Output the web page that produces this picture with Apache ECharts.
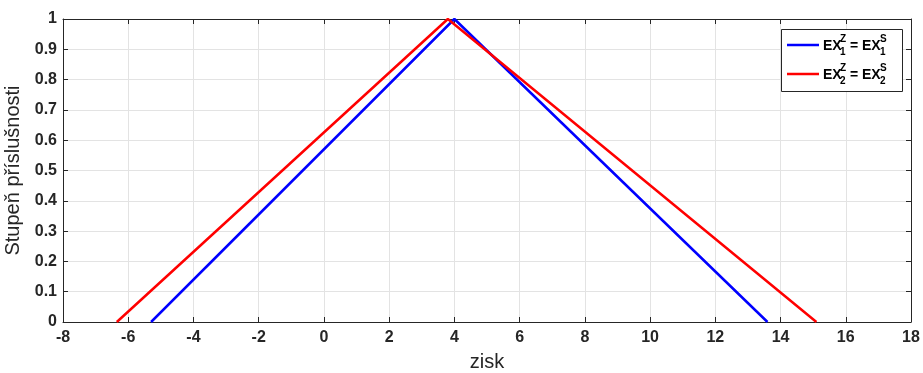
<!DOCTYPE html>
<html><head><meta charset="utf-8">
<script src="https://cdn.jsdelivr.net/npm/echarts@6/dist/echarts.min.js"></script>
<style>html,body{margin:0;padding:0;background:#fff}#c{width:923px;height:373px}</style>
</head><body><div id="c"></div>
<script>
// Data
const blueX = [-5.3, 4.0, 13.6];
const blueY = [0, 1, 0];
const redX = [-6.35, 3.8, 15.1];
const redY = [0, 1, 0];
const xTicks = [-8,-6,-4,-2,0,2,4,6,8,10,12,14,16,18];
const yTicks = [0,0.1,0.2,0.3,0.4,0.5,0.6,0.7,0.8,0.9,1];
const seriesNames = ['EX1', 'EX2'];

const FONT = '"Liberation Sans", Arial, sans-serif';
const AX = '#262626';
const chart = echarts.init(document.getElementById('c'), null, {renderer:'canvas'});

const mk = (xs, ys) => xs.map((x, i) => [x, ys[i]]);

const grid = {left:63, right:12, top:19, bottom:51, containLabel:false, outerBoundsMode:'none'};
const tickCommon = {show:true, inside:true, length:5, lineStyle:{color:AX, width:1}};

function legendRow(y, color, idx) {
  const g = [];
  g.push({type:'line', z:101, shape:{x1:787, y1:y, x2:819, y2:y}, style:{stroke:color, lineWidth:2.5}});
  const f = 'bold 14px ' + FONT, fs = 'bold 10px ' + FONT;
  const t = (x, yy, text, font) => ({type:'text', z:101, x:x, y:yy,
    style:{text:text, font:font, fill:'#000', textAlign:'left', textVerticalAlign:'middle', align:'left', verticalAlign:'middle'}});
  g.push(t(823, y+1, 'EX', f));
  g.push(t(840, y-6, 'Z', fs));
  g.push(t(840, y+7, String(idx), fs));
  g.push(t(850, y+1, '=', f));
  g.push(t(862, y+1, 'EX', f));
  g.push(t(880, y-6, 'S', fs));
  g.push(t(880, y+7, String(idx), fs));
  return g;
}

const option = {
  animation:false,
  backgroundColor:'#fff',
  grid:grid,
  xAxis:[{
    type:'value', min:xTicks[0], max:xTicks[xTicks.length-1], interval:2,
    name:'zisk', nameLocation:'middle', nameGap:30,
    nameTextStyle:{color:AX, fontSize:20, fontFamily:FONT},
    axisLine:{show:true, onZero:false, lineStyle:{color:AX, width:1}},
    axisTick:tickCommon,
    axisLabel:{color:AX, fontSize:16, fontWeight:'bold', fontFamily:FONT, margin:8},
    splitLine:{show:true, lineStyle:{color:'#e3e3e3', width:1}}
  },{
    type:'value', position:'top', min:xTicks[0], max:xTicks[xTicks.length-1], interval:2,
    axisLine:{show:true, onZero:false, lineStyle:{color:AX, width:1}},
    axisTick:tickCommon, axisLabel:{show:false}, splitLine:{show:false}
  }],
  yAxis:[{
    type:'value', min:yTicks[0], max:yTicks[yTicks.length-1], interval:0.1,
    name:'Stupeň příslušnosti', nameLocation:'middle', nameGap:35,
    nameTextStyle:{color:AX, fontSize:20, fontFamily:FONT},
    axisLine:{show:true, onZero:false, lineStyle:{color:AX, width:1}},
    axisTick:tickCommon,
    axisLabel:{color:AX, fontSize:16, fontWeight:'bold', fontFamily:FONT, margin:6,
      formatter: v => String(Math.round(v*10)/10)},
    splitLine:{show:true, lineStyle:{color:'#e3e3e3', width:1}}
  },{
    type:'value', position:'right', min:yTicks[0], max:yTicks[yTicks.length-1], interval:0.1,
    axisLine:{show:true, onZero:false, lineStyle:{color:AX, width:1}},
    axisTick:tickCommon, axisLabel:{show:false}, splitLine:{show:false}
  }],
  series:[
    {name:seriesNames[0], type:'line', data:mk(blueX, blueY), symbol:'none', lineStyle:{color:'#0000ff', width:2.5}, z:3},
    {name:seriesNames[1], type:'line', data:mk(redX, redY), symbol:'none', lineStyle:{color:'#ff0000', width:2.5}, z:4}
  ],
  graphic:[
    {type:'rect', z:100, shape:{x:781.5, y:29.5, width:121, height:62}, style:{fill:'#fff', stroke:'#262626', lineWidth:1}}
  ].concat(legendRow(45, '#0000ff', 1), legendRow(74, '#ff0000', 2))
};
chart.setOption(option);
</script></body></html>
